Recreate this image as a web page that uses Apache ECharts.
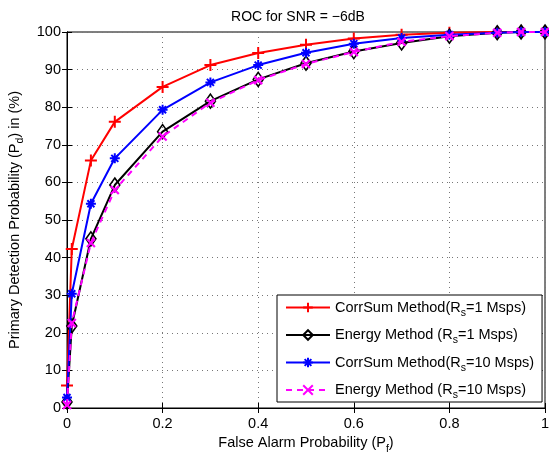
<!DOCTYPE html>
<html>
<head>
<meta charset="utf-8">
<script src="https://cdn.jsdelivr.net/npm/echarts@6/dist/echarts.min.js"></script>
<style>html,body{margin:0;padding:0;background:#fff}#c{width:549px;height:454px}</style>
</head>
<body>
<div id="c"></div>
<script>
const falseAlarm = [0, 0.01, 0.05, 0.1, 0.2, 0.3, 0.4, 0.5, 0.6, 0.7, 0.8, 0.9, 0.95, 1.0];
const corrSum1 = [6, 42.3, 65.8, 76.1, 85.4, 91.2, 94.4, 96.6, 98.3, 99.3, 99.8, 100, 100, 100];
const energy1 = [1.6, 21.8, 45, 59.3, 73.5, 81.6, 87.4, 91.7, 94.8, 97.1, 98.9, 99.8, 100, 100];
const corrSum10 = [2.8, 30.4, 54.3, 66.4, 79.3, 86.6, 91.2, 94.5, 96.9, 98.4, 99.3, 99.8, 100, 100];
const energy10 = [0.8, 22.6, 43.9, 58, 72.2, 81.2, 87.2, 91.5, 94.7, 97.4, 98.9, 99.8, 100, 100];
const xTicks = ['0', '0.2', '0.4', '0.6', '0.8', '1'];
const seriesNames = ['CorrSum 1', 'Energy 1', 'CorrSum 10', 'Energy 10'];
const legendLabels = [
  '{n|CorrSum Method(R}{s|s}{n|=1 Msps)}',
  '{n|Energy Method (R}{s|s}{n|=1 Msps)}',
  '{n|CorrSum Method(R}{s|s}{n|=10 Msps)}',
  '{n|Energy Method (R}{s|s}{n|=10 Msps)}'
];

const FONT = 'Liberation Sans, Arial, sans-serif';
const FS = 14.5;
const chart = echarts.init(document.getElementById('c'), null, {renderer: 'canvas'});

function pts(ys) { return falseAlarm.map((x, i) => [x, ys[i]]); }

const PLUS = 'path://M0,5L10,5M5,0L5,10';
const AST = 'path://M5,0L5,10M0,5L10,5M1.5,1.5L8.5,8.5M8.5,1.5L1.5,8.5';
const XM = 'path://M0,0L10,10M10,0L0,10';

const styles = [
  {color: '#ff0000', symbol: PLUS, size: 12, fill: 'rgba(0,0,0,0)', type: 'solid', bw: 2},
  {color: '#000000', symbol: 'diamond', size: [10, 14], fill: 'rgba(255,255,255,0)', type: 'solid', bw: 1.6},
  {color: '#0000ff', symbol: AST, size: 10, fill: 'rgba(0,0,0,0)', type: 'solid', bw: 2},
  {color: '#ff00ff', symbol: XM, size: 8, fill: 'rgba(0,0,0,0)', type: [6, 5], bw: 2.2}
];
const datas = [corrSum1, energy1, corrSum10, energy10];

const series = datas.map((d, i) => ({
  name: seriesNames[i],
  type: 'line',
  data: pts(d),
  symbol: styles[i].symbol,
  symbolSize: styles[i].size,
  showAllSymbol: true,
  lineStyle: {color: styles[i].color, width: 2, type: styles[i].type},
  itemStyle: {color: styles[i].fill, borderColor: styles[i].color, borderWidth: styles[i].bw},
  emphasis: {disabled: true},
  animation: false,
  z: 2 + i
}));

const axisCommon = {
  axisLine: {show: true, lineStyle: {color: '#000', width: 1}},
  axisTick: {show: true, inside: true, length: 5, lineStyle: {color: '#000'}},
};
const subRich = (fs) => ({
  n: {fontFamily: FONT, fontSize: fs, color: '#000'},
  s: {fontFamily: FONT, fontSize: 10.5, color: '#000', padding: [11, 0, 0, 0]}
});

chart.setOption({
  animation: false,
  backgroundColor: '#fff',
  title: {
    text: 'ROC for SNR = \u22126dB',
    left: 293, top: 5, textAlign: 'center',
    textStyle: {fontFamily: FONT, fontSize: 14, fontWeight: 'normal', color: '#000'}
  },
  grid: {left: 67, right: 4, top: 32, bottom: 46, show: true, borderColor: '#000', borderWidth: 1,
    containLabel: false, outerBoundsMode: 'none'},
  legend: {
    data: seriesNames,
    orient: 'vertical',
    left: 277, top: 295,
    backgroundColor: '#fff',
    borderColor: '#000', borderWidth: 1,
    padding: [5, 8, 1, 8],
    itemWidth: 44, itemHeight: 12, itemGap: 9,
    formatter: name => legendLabels[seriesNames.indexOf(name)],
    textStyle: {
      fontFamily: FONT, fontSize: FS, color: '#000',
      rich: subRich(FS)
    }
  },
  xAxis: [{
    type: 'value', min: 0, max: 1, interval: 0.2,
    ...axisCommon,
    axisLabel: {fontFamily: FONT, fontSize: FS, color: '#000', margin: 8,
      formatter: v => xTicks[Math.round(v / 0.2)]},
    splitLine: {show: true, lineStyle: {color: '#777', type: [1, 4], width: 1}},
    name: '{n|False Alarm Probability (P}{s|f}{n|)}',
    nameLocation: 'middle', nameGap: 19,
    nameTextStyle: {rich: subRich(FS)}
  }, {
    type: 'value', min: 0, max: 1, interval: 0.2, position: 'top',
    ...axisCommon, axisLabel: {show: false}, splitLine: {show: false}
  }],
  yAxis: [{
    type: 'value', min: 0, max: 100, interval: 10,
    ...axisCommon,
    axisLabel: {fontFamily: FONT, fontSize: FS, color: '#000', margin: 6},
    splitLine: {show: true, lineStyle: {color: '#777', type: [1, 4], width: 1}},
    name: '{n|Primary Detection Probability (P}{s|d}{n|) in (%)}',
    nameLocation: 'middle', nameGap: 35, nameRotate: 90,
    nameTextStyle: {rich: subRich(FS)}
  }, {
    type: 'value', min: 0, max: 100, interval: 10, position: 'right',
    ...axisCommon, axisLabel: {show: false}, splitLine: {show: false}
  }],
  series: series
});
</script>
</body>
</html>
